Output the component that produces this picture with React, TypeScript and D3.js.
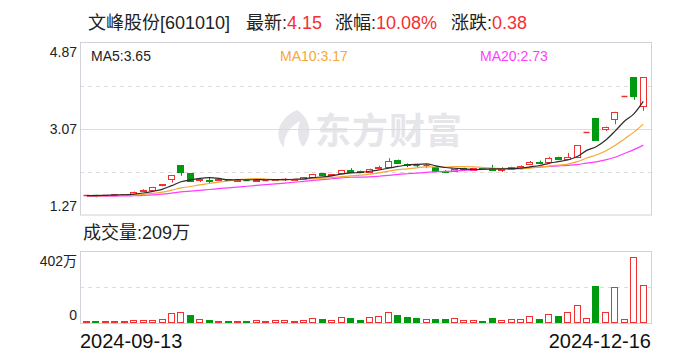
import React from 'react';
import * as d3 from 'd3';

// 日K数据 (2024-09-13 ~ 2024-12-16)
const dates = [
  '2024-09-13', '2024-09-18', '2024-09-19', '2024-09-20', '2024-09-23', '2024-09-24', '2024-09-25', '2024-09-26', '2024-09-27', '2024-09-30',
  '2024-10-08', '2024-10-09', '2024-10-10', '2024-10-11', '2024-10-14', '2024-10-15', '2024-10-16', '2024-10-17', '2024-10-18', '2024-10-21',
  '2024-10-22', '2024-10-23', '2024-10-24', '2024-10-25', '2024-10-28', '2024-10-29', '2024-10-30', '2024-10-31', '2024-11-01', '2024-11-04',
  '2024-11-05', '2024-11-06', '2024-11-07', '2024-11-08', '2024-11-11', '2024-11-12', '2024-11-13', '2024-11-14', '2024-11-15', '2024-11-18',
  '2024-11-19', '2024-11-20', '2024-11-21', '2024-11-22', '2024-11-25', '2024-11-26', '2024-11-27', '2024-11-28', '2024-11-29', '2024-12-02',
  '2024-12-03', '2024-12-04', '2024-12-05', '2024-12-06', '2024-12-09', '2024-12-10', '2024-12-11', '2024-12-12', '2024-12-13', '2024-12-16',
];
const opens = [
  1.68, 1.69, 1.68, 1.69, 1.69, 1.72, 1.78, 1.80, 1.89, 2.02,
  2.31, 2.15, 2.01, 2.01, 2.00, 2.02, 1.99, 2.01, 1.99, 2.00,
  2.01, 2.02, 2.00, 2.02, 2.07, 2.14, 2.10, 2.14, 2.21, 2.19,
  2.16, 2.25, 2.28, 2.42, 2.34, 2.32, 2.31, 2.28, 2.20, 2.20,
  2.25, 2.21, 2.25, 2.25, 2.22, 2.24, 2.26, 2.33, 2.37, 2.38,
  2.48, 2.45, 2.48, 3.00, 3.30, 3.06, 3.27, 3.77, 4.15, 3.55,
];
const highs = [
  1.69, 1.69, 1.69, 1.70, 1.71, 1.76, 1.81, 1.86, 1.92, 2.10,
  2.31, 2.15, 2.04, 2.06, 2.03, 2.02, 2.02, 2.02, 2.03, 2.01,
  2.02, 2.04, 2.03, 2.06, 2.13, 2.15, 2.13, 2.21, 2.25, 2.20,
  2.24, 2.30, 2.46, 2.43, 2.35, 2.34, 2.34, 2.29, 2.21, 2.24,
  2.26, 2.26, 2.26, 2.32, 2.27, 2.28, 2.31, 2.40, 2.41, 2.49,
  2.49, 2.57, 2.73, 3.00, 3.30, 3.12, 3.43, 3.77, 4.15, 4.15,
];
const lows = [
  1.68, 1.64, 1.67, 1.68, 1.68, 1.72, 1.76, 1.79, 1.87, 1.95,
  2.09, 1.97, 1.96, 1.93, 1.98, 2.00, 1.98, 1.99, 1.96, 1.99,
  2.00, 1.98, 2.00, 2.01, 2.06, 2.09, 2.09, 2.13, 2.17, 2.16,
  2.15, 2.24, 2.27, 2.34, 2.27, 2.27, 2.25, 2.19, 2.17, 2.19,
  2.20, 2.20, 2.22, 2.21, 2.17, 2.23, 2.22, 2.32, 2.35, 2.37,
  2.42, 2.44, 2.47, 3.00, 2.82, 3.03, 3.17, 3.77, 3.68, 3.45,
];
const closes = [
  1.69, 1.68, 1.69, 1.70, 1.71, 1.76, 1.79, 1.86, 1.91, 2.10,
  2.17, 1.98, 2.02, 1.99, 2.02, 2.01, 2.01, 2.00, 2.01, 2.01,
  2.02, 2.02, 2.03, 2.06, 2.13, 2.10, 2.13, 2.21, 2.18, 2.17,
  2.24, 2.27, 2.39, 2.36, 2.32, 2.31, 2.31, 2.20, 2.18, 2.24,
  2.24, 2.25, 2.23, 2.22, 2.23, 2.27, 2.30, 2.37, 2.36, 2.46,
  2.44, 2.48, 2.73, 3.00, 2.84, 3.12, 3.43, 3.77, 3.77, 4.15,
];
// 成交量 (万手)
const volumes = [
  4, 4, 4, 4, 5, 9, 13, 13, 19, 52,
  56, 37, 19, 13, 8, 8, 8, 4, 11, 8,
  11, 11, 8, 11, 22, 19, 11, 28, 24, 13,
  28, 35, 56, 41, 30, 24, 17, 19, 19, 22,
  13, 13, 7, 24, 11, 19, 19, 35, 19, 47,
  32, 58, 97, 22, 203, 58, 197, 17, 370, 209,
];
// 区间前19个交易日收盘价(用于均线)
const priorCloses = [1.66, 1.65, 1.64, 1.66, 1.67, 1.65, 1.64, 1.63, 1.65, 1.66, 1.67, 1.66, 1.65, 1.66, 1.68, 1.67, 1.66, 1.67, 1.68];

const priceTicks = [4.87, 3.07, 1.27];
const priceDashed = [3.97, 2.17];
const volMax = 402;
const stockName = '文峰股份';
const stockCode = '601010';

const RED = '#f23030';
const GREEN = '#009a0e';
const BORDER = '#d2d2da';
const GRID = '#dcdcdc';
const FONT = '"Liberation Sans", Arial, "Noto Sans CJK SC", sans-serif';

const maDefs = [
  { n: 5, color: '#2b2b2b' },
  { n: 10, color: '#f5a834' },
  { n: 20, color: '#ff3cff' },
];

const allCloses = priorCloses.concat(closes);
const movingAvg = (n: number) =>
  closes.map((_, i) => {
    const end = i + priorCloses.length + 1;
    return d3.mean(allCloses.slice(end - n, end)) as number;
  });

export default function App() {
  const left = 80, right = 651;
  const top = 43, bottom = 215;
  const vTop = 251, vBottom = 323;

  const x = d3.scaleBand<number>()
    .domain(d3.range(closes.length))
    .range([82, 648])
    .paddingInner(0.22)
    .paddingOuter(0.11);
  const bw = x.bandwidth();
  const cx = (i: number) => (x(i) as number) + bw / 2;

  const y = d3.scaleLinear().domain([1.27, 4.87]).range([bottom, top]);
  const yv = d3.scaleLinear().domain([0, volMax]).range([vBottom - 1, vTop]);

  const mas = maDefs.map((m) => ({ ...m, values: movingAvg(m.n) }));
  const line = d3.line<number>().x((_, i) => cx(i)).y((d) => y(d)).curve(d3.curveMonotoneX);

  const prevClose = (i: number) => (i === 0 ? priorCloses[priorCloses.length - 1] : closes[i - 1]);
  const last = closes.length - 1;
  const change = closes[last] - closes[last - 1];
  const pct = (change / closes[last - 1]) * 100;

  return (
    <svg width={688} height={360} style={{ position: 'absolute', left: 0, top: 0, fontFamily: FONT }}>
      <rect width={688} height={360} fill="#fff" />

      {/* header */}
      <g fontSize={18} dominantBaseline="auto">
        <text x={88} y={29} fill="#222">{stockName}[{stockCode}]</text>
        <text x={246} y={29} fill="#222">最新:<tspan fill={RED}>{closes[last].toFixed(2)}</tspan></text>
        <text x={335} y={29} fill="#222">涨幅:<tspan fill={RED}>{pct.toFixed(2)}%</tspan></text>
        <text x={451} y={29} fill="#222">涨跌:<tspan fill={RED}>{change.toFixed(2)}</tspan></text>
      </g>

      {/* watermark */}
      <g fill="#e6e6ea">
        <path d="M297 110 C281 117 272 133 284 148 C283 137 289 127 300 121 C297 130 297 139 303 147 C313 135 311 119 297 110 Z" />
        <text x={315} y={144} fontSize={36} fontWeight="bold" fontFamily='"Noto Sans CJK SC", sans-serif' letterSpacing={1}>东方财富</text>
      </g>

      {/* price grid */}
      <line x1={left} x2={right} y1={Math.round(y(priceTicks[1])) + 0.5} y2={Math.round(y(priceTicks[1])) + 0.5} stroke={GRID} />
      {priceDashed.map((p) => (
        <line key={p} x1={left} x2={right} y1={Math.round(y(p)) + 0.5} y2={Math.round(y(p)) + 0.5} stroke={GRID} strokeDasharray="4,4" />
      ))}
      <rect x={left + 0.5} y={top - 0.5} width={right - left} height={bottom - top + 0.5} fill="none" stroke={BORDER} />

      {/* price labels */}
      <g fontSize={14} fill="#222" textAnchor="end">
        <text x={77} y={57}>{priceTicks[0].toFixed(2)}</text>
        <text x={77} y={134}>{priceTicks[1].toFixed(2)}</text>
        <text x={77} y={211}>{priceTicks[2].toFixed(2)}</text>
      </g>

      {/* MA legend */}
      <g fontSize={14}>
        <text x={91} y={61} fill="#222">MA5:{mas[0].values[last].toFixed(2)}</text>
        <text x={280} y={61} fill={maDefs[1].color}>MA10:{mas[1].values[last].toFixed(2)}</text>
        <text x={480} y={61} fill={maDefs[2].color}>MA20:{mas[2].values[last].toFixed(2)}</text>
      </g>

      {/* candles */}
      {closes.map((c, i) => {
        const o = opens[i];
        const up = c > o || (c === o && c >= prevClose(i));
        const col = up ? RED : GREEN;
        const xc = Math.round(cx(i)) + 0.5;
        const x0 = Math.round(x(i) as number) + 0.5;
        const w = Math.round(bw) - 1;
        const yTop = Math.round(y(Math.max(o, c))) + 0.5;
        const yBot = Math.round(y(Math.min(o, c))) + 0.5;
        return (
          <g key={dates[i]}>
            <line x1={xc} x2={xc} y1={y(highs[i])} y2={y(lows[i])} stroke={col} />
            {yBot - yTop < 1 ? (
              <line x1={x0} x2={x0 + w} y1={yTop} y2={yTop} stroke={col} strokeWidth={1.5} />
            ) : (
              <rect x={x0} y={yTop} width={w} height={yBot - yTop}
                fill={c >= o ? '#fff' : col} stroke={col} />
            )}
          </g>
        );
      })}

      {/* moving averages */}
      {mas.slice().reverse().map((m) => (
        <path key={m.n} d={line(m.values) as string} fill="none" stroke={m.color} strokeWidth={1.2} />
      ))}

      {/* volume */}
      <text x={83} y={239} fontSize={18} fill="#222">成交量:{volumes[last]}万</text>
      <line x1={left} x2={right} y1={Math.round(yv(volMax / 2)) + 0.5} y2={Math.round(yv(volMax / 2)) + 0.5} stroke={GRID} strokeDasharray="4,4" />
      <rect x={left + 0.5} y={vTop + 0.5} width={right - left} height={vBottom - vTop} fill="none" stroke={BORDER} />
      <g fontSize={14} fill="#222" textAnchor="end">
        <text x={77} y={266}>{volMax}万</text>
        <text x={77} y={320}>0</text>
      </g>
      {volumes.map((v, i) => {
        const up = closes[i] >= prevClose(i);
        const col = up ? RED : GREEN;
        const x0 = Math.round(x(i) as number) + 0.5;
        const w = Math.round(bw) - 1;
        const yt = Math.round(yv(v)) + 0.5;
        const yb = vBottom - 0.5;
        return (
          <rect key={dates[i]} x={x0} y={yt} width={w} height={Math.max(0.5, yb - yt)}
            fill={up ? '#fff' : col} stroke={col} />
        );
      })}

      {/* dates */}
      <g fontSize={20} fill="#111">
        <text x={80} y={348}>{dates[0]}</text>
        <text x={651} y={348} textAnchor="end">{dates[last]}</text>
      </g>
    </svg>
  );
}
